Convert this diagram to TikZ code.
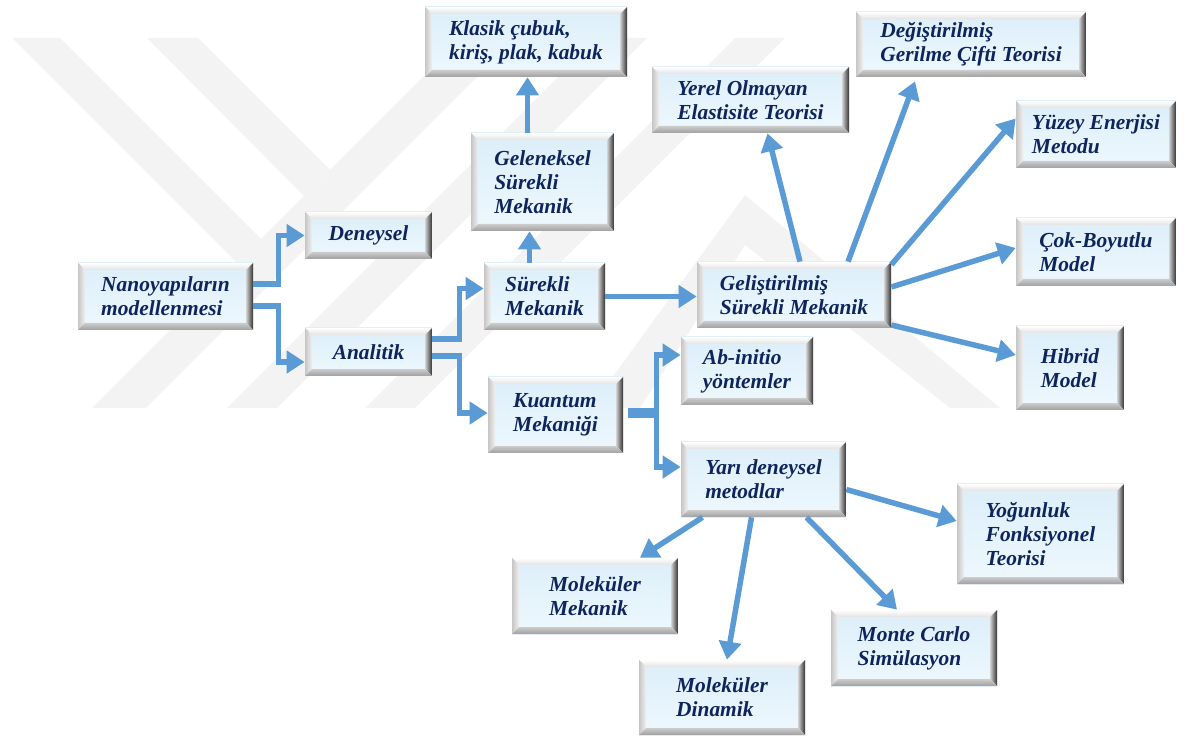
\documentclass[tikz,border=0pt]{standalone}
\usepackage{fontspec}
\setmainfont{Liberation Serif}
\usetikzlibrary{arrows.meta,calc}

\definecolor{linkblue}{RGB}{91,155,213}
\definecolor{boxtext}{RGB}{14,36,92}
\definecolor{boxtop}{RGB}{220,238,249}
\definecolor{boxbottom}{RGB}{238,248,254}
\definecolor{wmark}{RGB}{243,243,243}

% one pixel of the original picture, and the bevel width
\newcommand{\pxu}{0.02cm}
\newcommand{\bev}{0.14cm}

\tikzset{
  boxsize/.style 2 args={minimum width=#1*\pxu, minimum height=#2*\pxu},
  modelbox/.style={rectangle, inner sep=2pt, align=left, text=boxtext,
    font=\fontsize{12.2}{13.6}\selectfont\bfseries\itshape,
    path picture={
      \coordinate (bnw) at (path picture bounding box.north west);
      \coordinate (bne) at (path picture bounding box.north east);
      \coordinate (bsw) at (path picture bounding box.south west);
      \coordinate (bse) at (path picture bounding box.south east);
      \shade[top color=boxtop, bottom color=boxbottom] (bnw) rectangle (bse);
      \shade[top color=white, bottom color=gray!22] (bnw) -- (bne) -- ($(bne)+(-\bev,-\bev)$) -- ($(bnw)+(\bev,-\bev)$) -- cycle;
      \shade[left color=gray!45, right color=gray!12] (bnw) -- ($(bnw)+(\bev,-\bev)$) -- ($(bsw)+(\bev,\bev)$) -- (bsw) -- cycle;
      \shade[left color=gray!35, right color=black!80] (bne) -- (bse) -- ($(bse)+(-\bev,\bev)$) -- ($(bne)+(-\bev,-\bev)$) -- cycle;
      \shade[top color=gray!40, bottom color=gray!75] (bsw) -- ($(bsw)+(\bev,\bev)$) -- ($(bse)+(-\bev,\bev)$) -- (bse) -- cycle;
    }},
  link/.style={draw=linkblue, line width=0.11cm, -{Triangle[length=0.36cm, width=0.44cm]}},
}

\begin{document}
\begin{tikzpicture}[x=\pxu, y=-\pxu]
\useasboundingbox (0,0) rectangle (1187,736);

% watermark in the background
\fill[wmark] (92,408) -- (146,408) -- (516,38) -- (462,38) -- cycle;
\fill[wmark] (227,408) -- (277,408) -- (647,38) -- (597,38) -- cycle;
\fill[wmark] (365,408) -- (415,408) -- (785,38) -- (735,38) -- cycle;
\fill[wmark] (12,38) -- (60,38) -- (261,239) -- (237,263) -- cycle;
\fill[wmark] (147,38) -- (198,38) -- (330,170) -- (304,196) -- cycle;
\fill[wmark] (590,408) -- (745,195) -- (1000,408) -- (950,408) -- (745,245) -- (640,408) -- cycle;

% boxes
\node[modelbox, boxsize={175}{67}] (nano) at (165.5,296.5) {Nanoyapıların\\modellenmesi};
\node[modelbox, boxsize={127}{47}] (deney) at (368.5,235.5) {Deneysel};
\node[modelbox, boxsize={127}{48}] (anal) at (368.5,352) {Analitik};
\node[modelbox, boxsize={202}{70}] (klasik) at (526,42) {Klasik çubuk,\\kiriş, plak, kabuk};
\node[modelbox, boxsize={143}{98}] (gelen) at (542.5,182) {Geleneksel\\Sürekli\\Mekanik};
\node[modelbox, boxsize={121}{67}] (surekli) at (544.5,296.5) {Sürekli\\Mekanik};
\node[modelbox, boxsize={135}{76}] (kuantum) at (555.5,415) {Kuantum\\Mekaniği};
\node[modelbox, boxsize={194}{66}] (gelis) at (794,295) {Geliştirilmiş\\Sürekli Mekanik};
\node[modelbox, boxsize={197}{66}] (yerel) at (750.5,100) {Yerel Olmayan\\Elastisite Teorisi};
\node[modelbox, boxsize={230}{65}] (degis) at (971,44.5) {Değiştirilmiş\\Gerilme Çifti Teorisi};
\node[modelbox, boxsize={160}{67}] (yuzey) at (1096,134.5) {Yüzey Enerjisi\\Metodu};
\node[modelbox, boxsize={160}{68}] (cok) at (1096,252) {Çok-Boyutlu\\Model};
\node[modelbox, boxsize={108}{84}] (hibrid) at (1070,368) {Hibrid\\Model};
\node[modelbox, boxsize={132}{68}] (abinitio) at (747,371) {Ab-initio\\yöntemler};
\node[modelbox, boxsize={165}{75}] (yari) at (763.5,479.5) {Yarı deneysel\\metodlar};
\node[modelbox, boxsize={167}{100}] (yogun) at (1040.5,534) {Yoğunluk\\Fonksiyonel\\Teorisi};
\node[modelbox, boxsize={166}{76}] (molmek) at (595,596) {Moleküler\\Mekanik};
\node[modelbox, boxsize={166}{75}] (moldin) at (722,697.5) {Moleküler\\Dinamik};
\node[modelbox, boxsize={166}{76}] (monte) at (914,648) {Monte Carlo\\Simülasyon};

% elbow links on the left
\draw[link] ($(nano.east)+(0,-12.5)$) -- ++(25,0) |- (deney.west);
\draw[link] ($(nano.east)+(0,9.5)$) -- ++(25,0) |- ($(anal.west)+(0,10)$);
\draw[link] ($(anal.east)+(0,-13)$) -- ++(27,0) |- ($(surekli.west)+(0,-8)$);
\draw[link] ($(anal.east)+(0,4)$) -- ++(27,0) |- ($(kuantum.west)+(0,-2)$);

% upwards from Surekli Mekanik
\coordinate (s1) at ($(surekli.north)+(-15,0)$);
\draw[link] (s1) -- (s1 |- gelen.south);
\coordinate (g1) at ($(gelen.north)+(-15,0)$);
\draw[link] (g1) -- (g1 |- klasik.south);
\draw[link] (surekli.east) -- (surekli.east -| gelis.west);

% fan of Gelistirilmis Surekli Mekanik
\draw[link] ($(gelis.north)+(6,0)$) -- ($(yerel.south)+(17,0)$);
\draw[link] ($(gelis.north)+(54,0)$) -- ($(degis.south)+(-56,4)$);
\draw[link] ($(gelis.north east)+(0,3)$) -- ($(yuzey.west)+(0,-16)$);
\draw[link] ($(gelis.east)+(0,-8)$) -- ($(cok.west)+(0,-4)$);
\draw[link] ($(gelis.east)+(0,30)$) -- ($(hibrid.west)+(0,-13)$);

% Kuantum Mekanigi
\draw[link] ($(kuantum.east)+(5,-4.5)$) -- ++(28,0) |- ($(abinitio.west)+(0,-16)$);
\draw[link] ($(kuantum.east)+(5,0)$) -- ++(28,0) |- ($(yari.west)+(0,-12.5)$);

% fan of Yari deneysel metodlar
\draw[link] ($(yari.south)+(-61,0)$) -- ($(molmek.north)+(45,0)$);
\draw[link] ($(yari.south)+(-12,0)$) -- ($(moldin.north)+(5,0)$);
\draw[link] ($(yari.south)+(43,0)$) -- ($(monte.north)+(-17,0)$);
\draw[link] ($(yari.east)+(0,10)$) -- ($(yogun.west)+(0,-13)$);
\end{tikzpicture}
\end{document}
